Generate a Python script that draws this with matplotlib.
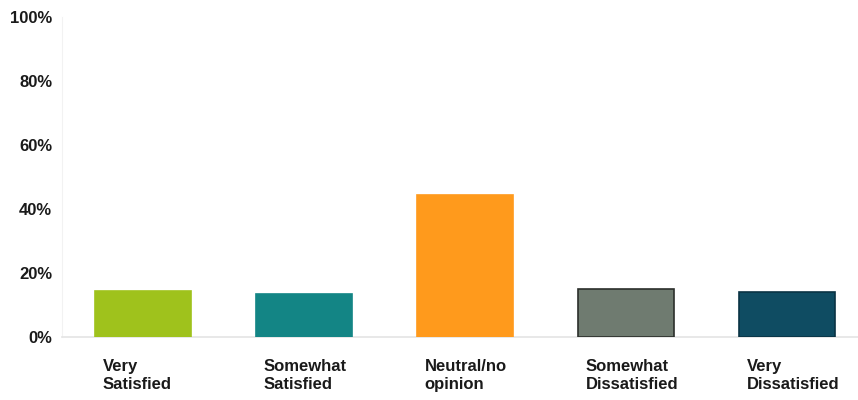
import matplotlib
matplotlib.use("Agg")
import matplotlib.pyplot as plt

categories = ["Very\nSatisfied", "Somewhat\nSatisfied", "Neutral/no\nopinion",
              "Somewhat\nDissatisfied", "Very\nDissatisfied"]
values = [14.5, 13.5, 44.5, 15.0, 14.0]
colors = ["#9fc21c", "#138585", "#ff9a1c", "#6f7b70", "#0f4c62"]
edges = ["#9fc21c", "#138585", "#ff9a1c", "#2b2f2b", "#0a3344"]
yticks = [0, 20, 40, 60, 80, 100]
ytick_labels = ["0%", "20%", "40%", "60%", "80%", "100%"]

plt.rcParams["font.family"] = ["Liberation Sans", "DejaVu Sans"]
fig = plt.figure(figsize=(8.58, 4.0), dpi=100)
ax = fig.add_axes([62/858, 1-337/400, 1-62/858, 320/400])

x = list(range(len(categories)))
ax.bar(x, values, width=0.6, color=colors, edgecolor=edges, linewidth=1.2, zorder=3)

ax.set_ylim(0, 100)
ax.set_xlim(-0.503, 4.44)
ax.set_yticks(yticks)
ax.set_yticklabels(ytick_labels, fontsize=12, fontweight="bold", color="#1a1a1a")
ax.tick_params(axis="y", length=0, pad=7)

ax.set_xticks([i - 0.25 for i in x])
ax.set_xticklabels(categories, fontsize=12, fontweight="bold", color="#1a1a1a",
                   ha="left", linespacing=1.25)
ax.tick_params(axis="x", length=0, pad=16)

for s in ["top", "right"]:
    ax.spines[s].set_visible(False)
ax.spines["left"].set_color("#f2f2f2")
ax.spines["bottom"].set_color("#e4e4e4")
ax.spines["bottom"].set_linewidth(1.2)

fig.savefig("out.png", dpi=100)
